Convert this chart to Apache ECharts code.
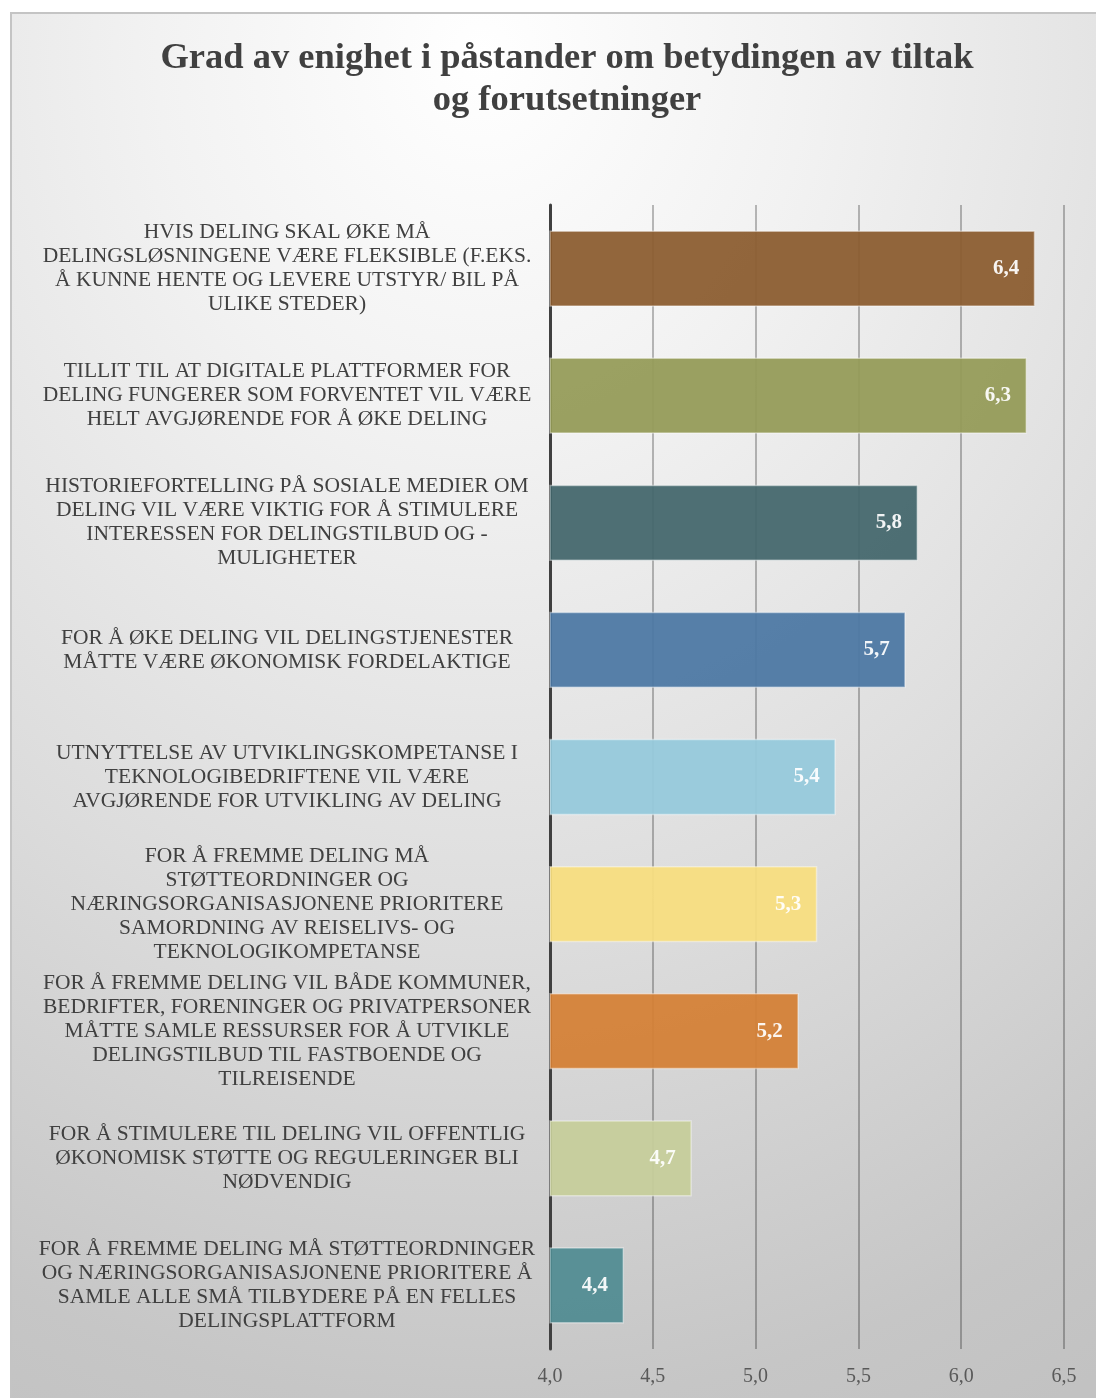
<!DOCTYPE html>
<html>
<head>
<meta charset="utf-8">
<script src="https://cdn.jsdelivr.net/npm/echarts@6/dist/echarts.min.js"></script>
<style>
  html, body { margin: 0; padding: 0; width: 1096px; height: 1398px; overflow: hidden; background: #ffffff; }
  #frame { position: absolute; left: 10px; top: 12px; width: 1110px; height: 1420px;
    border: 2px solid #c4c4c4; box-sizing: border-box;
    background: radial-gradient(ellipse 1300px 1500px at 470px 40px, #ffffff 0%, #f2f2f2 25%, #dcdcdc 60%, #c6c6c6 90%, #c2c2c2 100%); }
  #chart { position: absolute; left: 0; top: 0; width: 1096px; height: 1398px; }
</style>
</head>
<body>
<div id="frame"></div>
<div id="chart"></div>
<script>
const titleLines = ['Grad av enighet i påstander om betydingen av tiltak', 'og forutsetninger'];
const categories = [
  'HVIS DELING SKAL ØKE MÅ\nDELINGSLØSNINGENE VÆRE FLEKSIBLE (F.EKS.\nÅ KUNNE HENTE OG LEVERE UTSTYR/ BIL PÅ\nULIKE STEDER)',
  'TILLIT TIL AT DIGITALE PLATTFORMER FOR\nDELING FUNGERER SOM FORVENTET VIL VÆRE\nHELT AVGJØRENDE FOR Å ØKE DELING',
  'HISTORIEFORTELLING PÅ SOSIALE MEDIER OM\nDELING VIL VÆRE VIKTIG FOR Å STIMULERE\nINTERESSEN FOR DELINGSTILBUD OG -\nMULIGHETER',
  'FOR Å ØKE DELING VIL DELINGSTJENESTER\nMÅTTE VÆRE ØKONOMISK FORDELAKTIGE',
  'UTNYTTELSE AV UTVIKLINGSKOMPETANSE I\nTEKNOLOGIBEDRIFTENE VIL VÆRE\nAVGJØRENDE FOR UTVIKLING AV DELING',
  'FOR Å FREMME DELING MÅ\nSTØTTEORDNINGER OG\nNÆRINGSORGANISASJONENE PRIORITERE\nSAMORDNING AV REISELIVS- OG\nTEKNOLOGIKOMPETANSE',
  'FOR Å FREMME DELING VIL BÅDE KOMMUNER,\nBEDRIFTER, FORENINGER OG PRIVATPERSONER\nMÅTTE SAMLE RESSURSER FOR Å UTVIKLE\nDELINGSTILBUD TIL FASTBOENDE OG\nTILREISENDE',
  'FOR Å STIMULERE TIL DELING VIL OFFENTLIG\nØKONOMISK STØTTE OG REGULERINGER BLI\nNØDVENDIG',
  'FOR Å FREMME DELING MÅ STØTTEORDNINGER\nOG NÆRINGSORGANISASJONENE PRIORITERE Å\nSAMLE ALLE SMÅ TILBYDERE PÅ EN FELLES\nDELINGSPLATTFORM'
];
const values = [6.36, 6.32, 5.79, 5.73, 5.39, 5.30, 5.21, 4.69, 4.36];
const barColors = ['#8a5a2d', '#939a56', '#42656a', '#4a76a3', '#94c9dc', '#f8de7e', '#d47f34', '#c6ce9a', '#508b91'];
const xTicks = { min: 4, max: 6.5, interval: 0.5 };

const serif = '"Liberation Serif", "DejaVu Serif", serif';
const fmt = v => Number(v).toFixed(1).replace('.', ',');

const chart = echarts.init(document.getElementById('chart'));
chart.setOption({
  backgroundColor: 'transparent',
  title: {
    text: titleLines.join('\n'),
    left: 562, top: 33, textAlign: 'center',
    textStyle: { fontFamily: serif, fontWeight: 'bold', fontSize: 36.5, color: '#404040', lineHeight: 42 }
  },
  grid: { left: 550, right: 32, top: 205, bottom: 49, containLabel: false },
  xAxis: {
    type: 'value', min: xTicks.min, max: xTicks.max, interval: xTicks.interval,
    axisLine: { show: false }, axisTick: { show: false },
    splitLine: { show: true, lineStyle: { color: 'rgba(0,0,0,0.26)', width: 2 } },
    axisLabel: { formatter: fmt, fontFamily: serif, fontSize: 20, color: '#595959', margin: 18 }
  },
  yAxis: {
    type: 'category', data: categories, inverse: true,
    axisLine: { show: true, lineStyle: { color: '#404040', width: 3 } },
    axisTick: { show: false },
    axisLabel: { align: 'center', margin: 263, fontFamily: serif, fontSize: 21.5, lineHeight: 24, color: '#404040' }
  },
  series: [{
    type: 'bar',
    data: values.map((v, i) => ({ value: v, itemStyle: { color: barColors[i] } })),
    barCategoryGap: '40%',
    itemStyle: { opacity: 0.93, borderColor: 'rgba(255,255,255,0.45)', borderWidth: 1.5 },
    label: { show: true, position: 'insideRight', distance: 16, formatter: p => fmt(p.value),
      color: '#ffffff', fontFamily: serif, fontWeight: 'bold', fontSize: 21 },
    animation: false
  }],
  animation: false
});
</script>
</body>
</html>
